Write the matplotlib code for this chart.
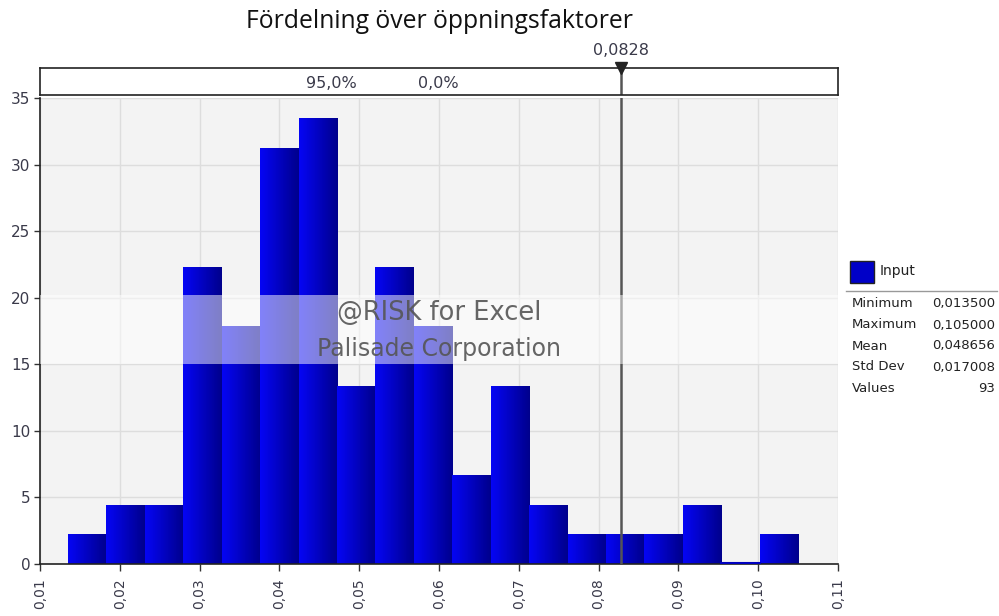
import matplotlib
matplotlib.use("Agg")
import matplotlib.pyplot as plt
import numpy as np
from matplotlib.colors import LinearSegmentedColormap
from matplotlib.patches import Rectangle
from matplotlib.lines import Line2D

plt.rcParams["font.family"] = ["DejaVu Sans"]

# Data (93 values in 19 bins between min and max)
data_min = 0.0135
data_max = 0.105
bin_counts = [1, 2, 2, 10, 8, 14, 15, 6, 10, 8, 3, 6, 2, 1, 1, 1, 2, 0, 1]
marker_value = 0.0828
band_labels = ["95,0%", "0,0%"]
band_label_x = [0.0465, 0.0599]
x_ticks = [0.01, 0.02, 0.03, 0.04, 0.05, 0.06, 0.07, 0.08, 0.09, 0.10, 0.11]
y_ticks = [0, 5, 10, 15, 20, 25, 30, 35]
stat_names = ["Minimum", "Maximum", "Mean", "Std Dev", "Values"]
stat_values = ["0,013500", "0,105000", "0,048656", "0,017008", "93"]

title = "Fördelning över öppningsfaktorer"

# Density histogram (same as @RISK's y-axis)
n_total = sum(bin_counts)
edges = np.linspace(data_min, data_max, len(bin_counts) + 1)
widths = np.diff(edges)
density = np.array(bin_counts) / (n_total * widths)

W, H = 999, 616
fig = plt.figure(figsize=(W / 100, H / 100), dpi=100)
fig.patch.set_facecolor("white")

def fx(px):
    return px / W

def fy(py):
    return 1 - py / H

# Main plot area
ax = fig.add_axes([fx(40), fy(564), fx(838) - fx(40), fy(98) - fy(564)])
ax.set_facecolor("#f3f3f3")
ax.set_xlim(0.01, 0.11)
ax.set_ylim(0, 35)
ax.set_xticks(x_ticks)
ax.set_yticks(y_ticks)
ax.set_xticklabels([f"{t:.2f}".replace(".", ",") for t in x_ticks], rotation=90,
                   fontsize=10, color="#3a3a4a")
ax.set_yticklabels([str(t) for t in y_ticks], fontsize=11, color="#3a3a4a")
ax.grid(True, color="#dddddd", linewidth=1)
ax.set_axisbelow(True)
for side in ["top", "right"]:
    ax.spines[side].set_visible(False)
for side in ["left", "bottom"]:
    ax.spines[side].set_color("#222222")
    ax.spines[side].set_linewidth(1.2)
ax.tick_params(axis="y", length=4, width=1, color="#333333", pad=3)
ax.tick_params(axis="x", length=5, width=1, color="#333333", pad=5)

# Bars with a left-to-right blue gradient
cmap = LinearSegmentedColormap.from_list("bluegrad", ["#0505f5", "#00008c"])
grad = np.linspace(0, 1, 64).reshape(1, -1)
bars = ax.bar(edges[:-1], density, width=widths, align="edge",
              color="#0000c0", linewidth=0, zorder=2)
for b in bars:
    x0, w, h = b.get_x(), b.get_width(), b.get_height()
    if h <= 0:
        ax.plot([x0, x0 + w], [0.05, 0.05], color="#0000c0", lw=1.5, zorder=3)
        continue
    im = ax.imshow(grad, extent=[x0, x0 + w, 0, h], aspect="auto", cmap=cmap,
                   zorder=2.5, interpolation="bilinear")
    im.set_clip_path(b)
ax.set_xlim(0.01, 0.11)
ax.set_ylim(0, 35)

# Marker line
ax.axvline(marker_value, color="#555555", linewidth=1.8, zorder=4)

# Watermark band
ax.add_patch(Rectangle((0, 0.429), 1, 0.148, transform=ax.transAxes,
                       facecolor="white", alpha=0.5, edgecolor="none", zorder=5))
ax.text(0.5, 0.539, "@RISK for Excel", transform=ax.transAxes, ha="center",
        va="center", fontsize=18.5, color="#555555", alpha=0.9, zorder=6)
ax.text(0.5, 0.461, "Palisade Corporation", transform=ax.transAxes, ha="center",
        va="center", fontsize=17, color="#555555", alpha=0.9, zorder=6)

# Top delimiter band
band = fig.add_axes([fx(40), fy(95), fx(838) - fx(40), fy(68) - fy(95)])
band.set_xlim(0.01, 0.11)
band.set_ylim(0, 1)
band.set_xticks([])
band.set_yticks([])
band.set_facecolor("white")
for s in band.spines.values():
    s.set_color("#222222")
    s.set_linewidth(1.2)
for lbl, xv in zip(band_labels, band_label_x):
    band.text(xv, 0.42, lbl, ha="center", va="center", fontsize=11.5, color="#3a3a4a")
band.axvline(marker_value, color="#555555", linewidth=1.8)
band.plot([marker_value], [1.0], marker="v", markersize=9, color="#222222",
          clip_on=False, zorder=10)
band.annotate(f"{marker_value:.4f}".replace(".", ","), xy=(marker_value, 1.0),
              xycoords=("data", "axes fraction"), xytext=(0, 7),
              textcoords="offset points", ha="center", va="bottom",
              fontsize=11.5, color="#3a3a4a")

# Title
fig.text(fx(439), fy(21), title, ha="center", va="center", fontsize=17.8,
         family=["Open Sans", "DejaVu Sans"], color="#111111")

# Legend / statistics panel
fig.patches.append(Rectangle((fx(850), fy(283)), fx(24), fy(261) - fy(283),
                             transform=fig.transFigure, facecolor="#0000c8",
                             edgecolor="#222222", linewidth=1))
fig.text(fx(880), fy(271), "Input", ha="left", va="center", fontsize=10, color="#222222")
fig.lines.append(Line2D([fx(846), fx(997)], [fy(291), fy(291)],
                        transform=fig.transFigure, color="#999999", linewidth=1))
row_y = [304, 325, 346, 367, 389]
for name, val, py in zip(stat_names, stat_values, row_y):
    fig.text(fx(852), fy(py), name, ha="left", va="center", fontsize=9.5, color="#222222")
    fig.text(fx(995), fy(py), val, ha="right", va="center", fontsize=9.5, color="#222222")

fig.savefig("out.png", dpi=100)
